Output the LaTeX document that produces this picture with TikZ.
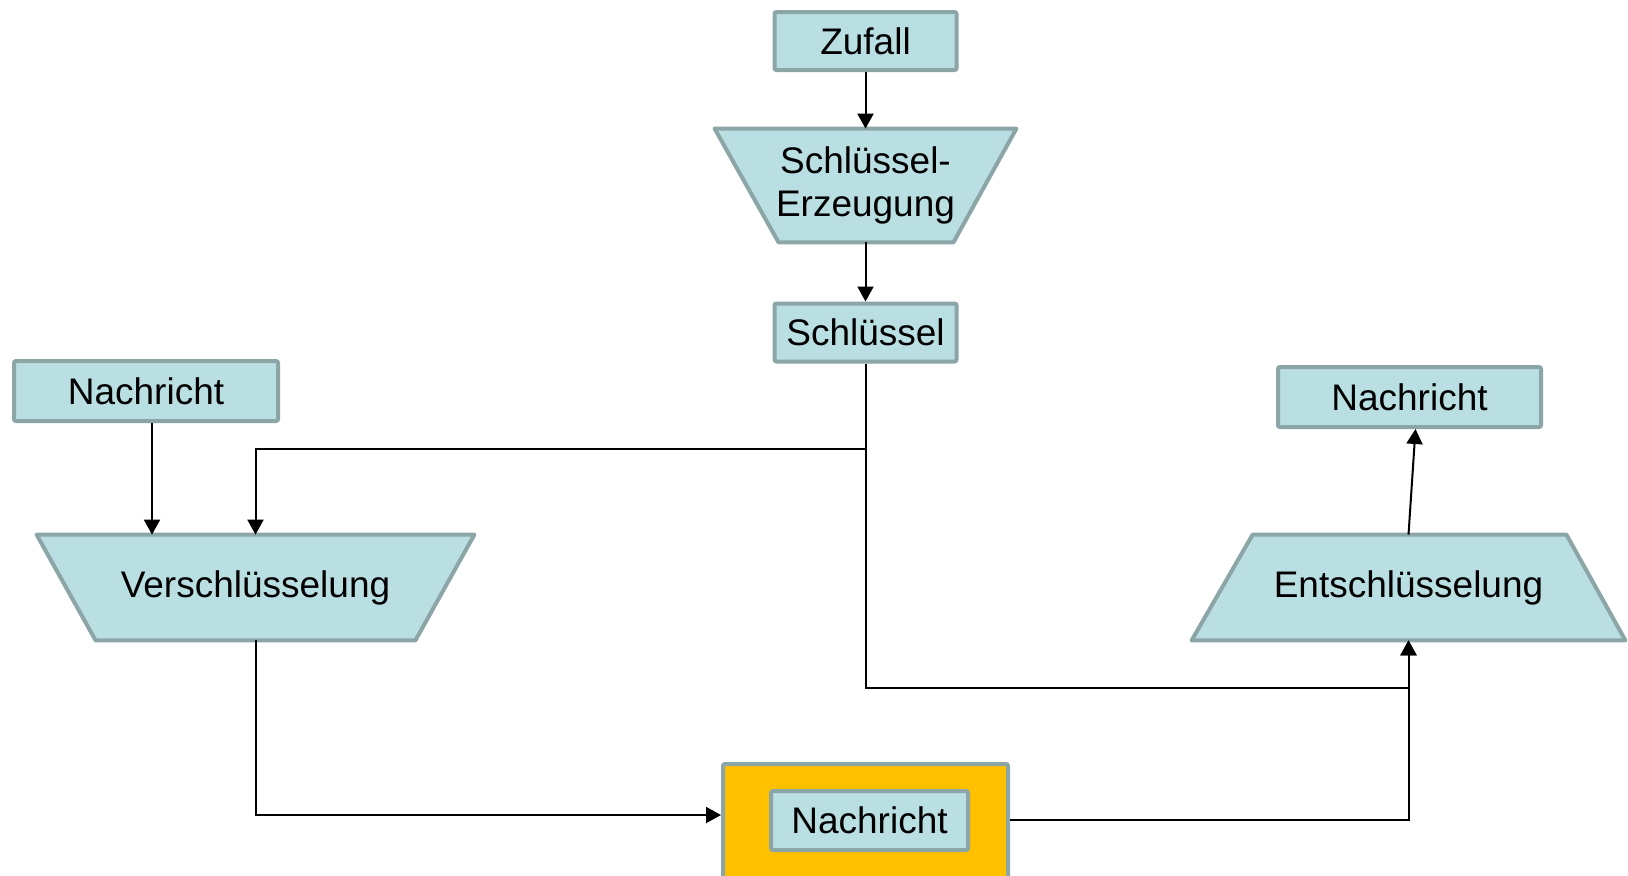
\documentclass[tikz,border=0pt]{standalone}
\usepackage{fontspec}
\setmainfont{Liberation Sans}
\usepackage{tikz}
\usetikzlibrary{arrows.meta,positioning,backgrounds,calc}

\definecolor{boxfill}{HTML}{B9DFE3}
\definecolor{boxline}{HTML}{8CA5A7}
\definecolor{chanfill}{HTML}{FFC000}

\tikzset{
  box/.style={rectangle, draw=boxline, fill=boxfill, line width=2pt, rounded corners=1pt,
    inner sep=0pt, font=\fontsize{18.5}{21.5}\selectfont},
  proc/.style={rectangle, inner sep=0pt, font=\fontsize{18.5}{21.5}\selectfont, align=center},
  trap/.style={draw=boxline, fill=boxfill, line width=2pt, line join=round},
  arr/.style={-{Triangle[length=7.5pt,width=8pt]}, line width=1pt},
}

\begin{document}
\begin{tikzpicture}[x=0.5pt,y=-0.5pt]
      \useasboundingbox (0,0) rectangle (1628,875);
      % Define nodes
      \node[box, minimum width=91pt, minimum height=29pt] (zufall) at (865.5,41) {Zufall};
      \node[proc, minimum width=150.5pt, minimum height=56.5pt] (erzeugung) at (865.5,185.5) {Schlüssel-\\Erzeugung};
      \node[box, minimum width=91pt, minimum height=29pt] (schluessel) at (865.5,332.5) {Schlüssel};
      \node[box, minimum width=132pt, minimum height=30pt] (nachrA) at (146,391) {Nachricht};
      \node[proc, minimum width=218.5pt, minimum height=52.5pt] (versch) at (255.5,587.5) {Verschlüsselung};
      \node[proc, minimum width=216.5pt, minimum height=52.5pt] (entsch) at (1408.5,587.5) {Entschlüsselung};
      \node[box, minimum width=131.5pt, minimum height=30pt] (nachrB) at (1409.5,397) {Nachricht};
      \node[rectangle, draw=boxline, fill=chanfill, line width=2pt, rounded corners=1pt,
            minimum width=142.5pt, minimum height=58pt] (kanal) at (865.5,822) {};
      \node[box, minimum width=98.5pt, minimum height=29.5pt] (nachrC) at (869.5,820.5) {Nachricht};

      % Trapezoid outlines
      \begin{scope}[on background layer]
        \draw[trap] (erzeugung.north west) -- (erzeugung.north east)
          -- ([xshift=-31.5pt]erzeugung.south east) -- ([xshift=32pt]erzeugung.south west) -- cycle;
        \draw[trap] (versch.north west) -- (versch.north east)
          -- ([xshift=-29.5pt]versch.south east) -- ([xshift=29.5pt]versch.south west) -- cycle;
        \draw[trap] ([xshift=30.5pt]entsch.north west) -- ([xshift=-29.5pt]entsch.north east)
          -- (entsch.south east) -- (entsch.south west) -- cycle;
      \end{scope}

      % Draw edges
      \coordinate (k1) at (865.5,449);
      \coordinate (k2) at (865.5,688);
      \draw[arr] (zufall) -- (erzeugung);
      \draw[arr] (erzeugung) -- (schluessel);
      \draw[arr] (schluessel.south) -- (k1) -| (versch.north);
      \draw[arr] (k1) -- (k2) -| (entsch.south);
      \draw[arr] ([xshift=3pt]nachrA.south) -- ([xshift=3pt]nachrA.south |- versch.north);
      \draw[arr] (versch.south) |- ([yshift=3.5pt]kanal.west);
      \draw[arr] ([yshift=1pt]kanal.east) -| (entsch.south);
      \draw[arr] (entsch.north) -- ([xshift=3pt]nachrB.south);
    \end{tikzpicture}
\end{document}
